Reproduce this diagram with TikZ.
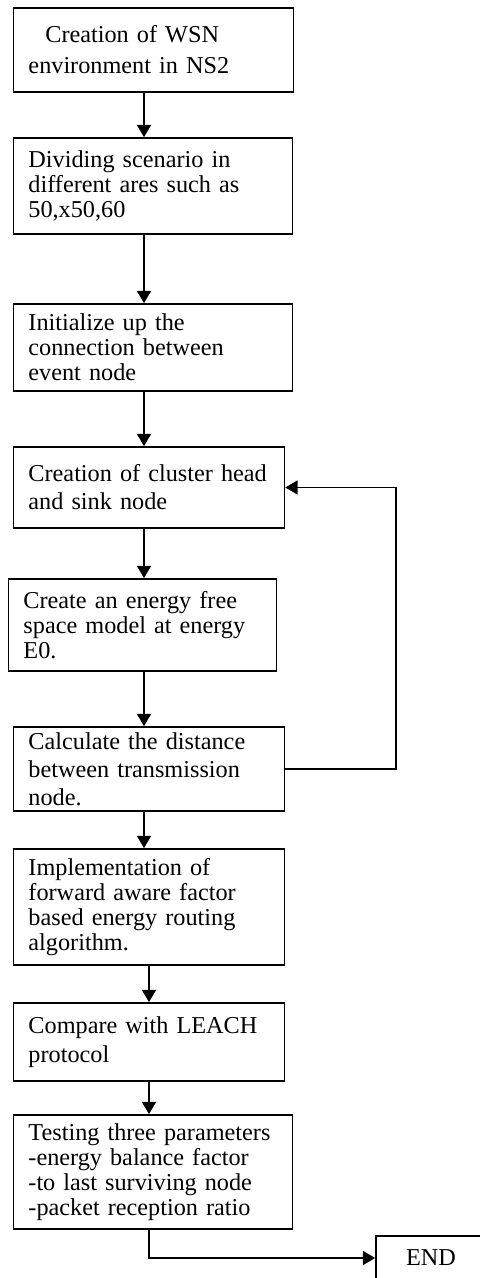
\documentclass[tikz,border=0pt]{standalone}
\usepackage{fontspec}
\setmainfont{Liberation Serif}
\usetikzlibrary{arrows.meta}

\tikzset{
  stepbox/.style={draw, line width=1pt, align=left, inner xsep=8.5pt, inner ysep=0pt,
    font=\fontsize{13.8}{14.2}\selectfont},
  flow/.style={line width=0.9pt, -{Triangle[length=7pt,width=8pt]}},
}

\begin{document}
\begin{tikzpicture}[x=0.02cm, y=-0.02cm]
  \useasboundingbox (0,0) rectangle (480,1278);
  \clip (0,0) rectangle (480,1278);
  % --- the steps, top to bottom
  \node[stepbox, text width=142.3pt, minimum height=1.68cm] (init) at (153.5,50)
    {\hspace*{9.6pt}Creation of WSN\\[3.4pt]environment in NS2};
  \node[stepbox, text width=141.8pt, minimum height=1.92cm] (divide) at (153,186)
    {Dividing scenario in\\different ares such as\\50,x50,60};
  \node[stepbox, text width=141.8pt, minimum height=1.74cm] (connect) at (153,347.5)
    {Initialize up the\\connection between\\event node};
  \node[stepbox, text width=137.2pt, minimum height=1.62cm] (cluster) at (149,487.5)
    {Creation of cluster head\\[1.7pt]and sink node};
  \node[stepbox, text width=135.5pt, minimum height=1.84cm] (energy) at (142.5,625)
    {Create an energy free\\space model at energy\\E0.};
  \node[stepbox, text width=137.2pt, minimum height=1.68cm] (dist) at (149,769)
    {Calculate the distance\\[1.7pt]between transmission\\[1.7pt]node.};
  \node[stepbox, text width=137.2pt, minimum height=2.32cm] (implement) at (149,907)
    {Implementation of\\forward aware factor\\based energy routing\\algorithm.};
  \node[stepbox, text width=137.2pt, minimum height=1.56cm] (compare) at (149,1042)
    {Compare with LEACH\\[2pt]protocol};
  \node[stepbox, text width=141.8pt, minimum height=2.28cm] (test) at (153,1172)
    {Testing three parameters\\-energy balance factor\\-to last surviving node\\-packet reception ratio};
  \node[stepbox, align=center, minimum width=2.2cm, minimum height=0.88cm] (finish) at (431,1258) {END};

  % --- connectors
  \coordinate (colA) at (144,0);
  \coordinate (colB) at (149,0);
  \coordinate (loop) at (396,0);
  \draw[flow] (init.south -| colA) -- (divide.north -| colA);
  \draw[flow] (divide.south -| colA) -- (connect.north -| colA);
  \draw[flow] (connect.south -| colA) -- (cluster.north -| colA);
  \draw[flow] (cluster.south -| colA) -- (energy.north -| colA);
  \draw[flow] (energy.south -| colA) -- (dist.north -| colA);
  \draw[flow] (dist.south -| colA) -- (implement.north -| colA);
  \draw[flow] (implement.south -| colB) -- (compare.north -| colB);
  \draw[flow] (compare.south -| colB) -- (test.north -| colB);
  \draw[flow] (dist.east) -- (dist.east -| loop) |- (cluster.east);
  \draw[flow] (test.south -| colB) |- (finish.west);
\end{tikzpicture}
\end{document}
